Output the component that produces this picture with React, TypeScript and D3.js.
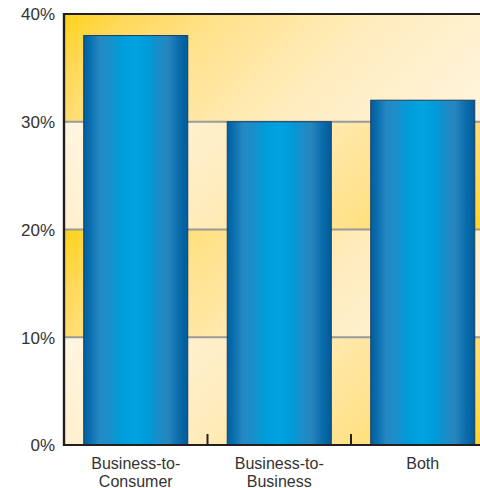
import React from "react";
import * as d3 from "d3";

const categories = ["Business-to-Consumer", "Business-to-Business", "Both"];
const categoryLines = [["Business-to-", "Consumer"], ["Business-to-", "Business"], ["Both"]];
const values = [38, 30, 32];
const yTicks = [0, 10, 20, 30, 40];
const yTickLabels = ["0%", "10%", "20%", "30%", "40%"];

const W = 480;
const H = 488;
const M = { left: 64, top: 14, right: 494.5, bottom: 445 };

const bandStops = [
  { o: 0, c: "#FFD21A" },
  { o: 0.12, c: "#FFD95A" },
  { o: 0.3, c: "#FFE28C" },
  { o: 0.6, c: "#FFEDC0" },
  { o: 1, c: "#FFF5E0" },
];

export default function App() {
  const x = d3
    .scaleBand<string>()
    .domain(categories)
    .range([M.left, M.right])
    .paddingInner(0.275)
    .paddingOuter(0.1375);
  const y = d3.scaleLinear().domain([0, 40]).range([M.bottom, M.top]);

  const bands = yTicks.slice(0, -1).map((v, i) => {
    const top = y(yTicks[i + 1]);
    const bot = y(v);
    const h = bot - top;
    const w = M.right - M.left;
    const L = (w + h) / 2;
    const goldTopLeft = i % 2 === 1; // 10-20 and 30-40
    return { i, top, h, w, L, goldTopLeft };
  });

  const step = x.step();
  const bw = x.bandwidth();
  const sepTicks = categories.slice(1).map((c) => (x(c) as number) - (step - bw) / 2);

  return (
    <svg
      width={W}
      height={H}
      style={{ position: "absolute", left: 0, top: 0, display: "block" }}
      fontFamily="'Liberation Sans', Arial, Helvetica, sans-serif"
    >
      <defs>
        {bands.map((b) => (
          <linearGradient
            key={b.i}
            id={`band${b.i}`}
            gradientUnits="userSpaceOnUse"
            x1={b.goldTopLeft ? M.left : M.left + b.L}
            y1={b.goldTopLeft ? b.top : b.top + b.L}
            x2={b.goldTopLeft ? M.left + b.L : M.left}
            y2={b.goldTopLeft ? b.top + b.L : b.top}
          >
            {bandStops.map((s) => (
              <stop key={s.o} offset={s.o} stopColor={s.c} />
            ))}
          </linearGradient>
        ))}
        <linearGradient id="barGrad" x1="0" y1="0" x2="1" y2="0">
          <stop offset="0" stopColor="#005F9F" />
          <stop offset="0.06" stopColor="#0A6EAE" />
          <stop offset="0.15" stopColor="#2688C2" />
          <stop offset="0.25" stopColor="#1A8FCB" />
          <stop offset="0.36" stopColor="#009CDA" />
          <stop offset="0.5" stopColor="#00A4E0" />
          <stop offset="0.62" stopColor="#009AD8" />
          <stop offset="0.72" stopColor="#1B8DC8" />
          <stop offset="0.81" stopColor="#2886BE" />
          <stop offset="0.91" stopColor="#0C6DAC" />
          <stop offset="1" stopColor="#005B99" />
        </linearGradient>
      </defs>

      {bands.map((b) => (
        <rect
          key={b.i}
          x={M.left}
          y={b.top}
          width={b.w}
          height={b.h}
          fill={`url(#band${b.i})`}
        />
      ))}

      {yTicks.slice(1, -1).map((v) => (
        <line
          key={v}
          x1={M.left}
          x2={M.right}
          y1={y(v)}
          y2={y(v)}
          stroke="#9A9A9A"
          strokeWidth={2}
        />
      ))}

      {categories.map((c, i) => (
        <rect
          key={c}
          x={x(c)}
          y={y(values[i])}
          width={bw}
          height={y(0) - y(values[i])}
          fill="url(#barGrad)"
          stroke="#1B3E63"
          strokeWidth={1}
        />
      ))}

      {sepTicks.map((tx, i) => (
        <line
          key={i}
          x1={tx}
          x2={tx}
          y1={M.bottom}
          y2={M.bottom - 11}
          stroke="#231F20"
          strokeWidth={2}
        />
      ))}

      <line x1={M.left} x2={W} y1={M.top} y2={M.top} stroke="#231F20" strokeWidth={2} />
      <line x1={M.left} x2={W} y1={M.bottom} y2={M.bottom} stroke="#231F20" strokeWidth={2} />
      <line x1={M.left} x2={M.left} y1={M.top - 1} y2={M.bottom + 1} stroke="#231F20" strokeWidth={2.4} />

      {yTicks.map((v, i) => (
        <text
          key={v}
          x={55}
          y={y(v) + 2}
          textAnchor="end"
          dominantBaseline="middle"
          fontSize={17}
          fill="#333"
        >
          {yTickLabels[i]}
        </text>
      ))}

      {categories.map((c, i) => (
        <text
          key={c}
          x={(x(c) as number) + bw / 2}
          y={468.5}
          textAnchor="middle"
          fontSize={16}
          fill="#333"
        >
          {categoryLines[i].map((ln, j) => (
            <tspan key={j} x={(x(c) as number) + bw / 2} dy={j === 0 ? 0 : 18}>
              {ln}
            </tspan>
          ))}
        </text>
      ))}
    </svg>
  );
}
